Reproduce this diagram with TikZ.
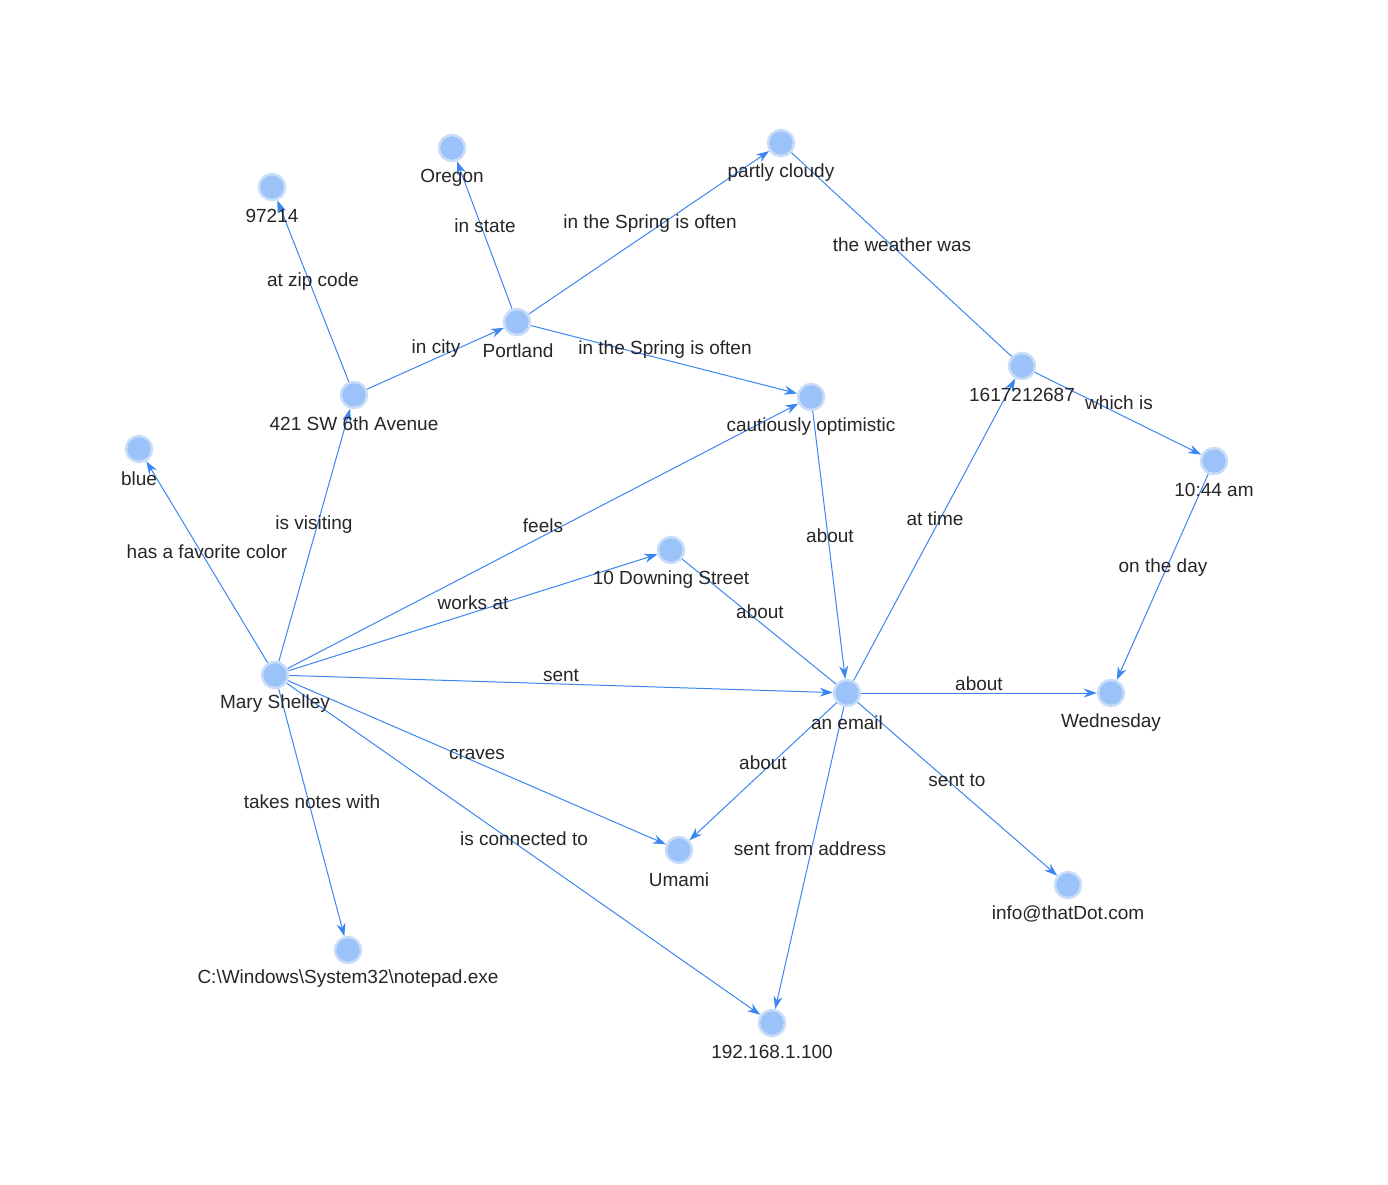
\documentclass[tikz,border=0pt]{standalone}
\usepackage{fontspec}
\setmainfont{Liberation Sans}
\usetikzlibrary{arrows.meta}
\definecolor{nfill}{HTML}{9CC2FA}
\definecolor{nring}{HTML}{C9DCF8}
\definecolor{eline}{HTML}{3B86F0}
\begin{document}
\begin{tikzpicture}[x=1pt,y=-1pt,
  v/.style={circle,fill=nfill,draw=nring,line width=2.5pt,minimum size=26pt,inner sep=0pt},
  lab/.style={font=\fontsize{19}{21}\selectfont,text=black!85,inner sep=1pt},
  e/.style={draw=eline,line width=1pt,-{Stealth[length=13pt,width=9pt]}},
  ep/.style={draw=eline,line width=1pt}]
\useasboundingbox[fill=white] (0,0) rectangle (1388,1184);
\node[v] (mary) at (275,675) {};
\node[v] (blue) at (139,449) {};
\node[v] (zip) at (272,187) {};
\node[v] (addr) at (354,395) {};
\node[v] (oregon) at (452,148) {};
\node[v] (portland) at (517,322) {};
\node[v] (cloudy) at (781,143) {};
\node[v] (opt) at (811,397) {};
\node[v] (ts) at (1022,366) {};
\node[v] (time) at (1214,461) {};
\node[v] (downing) at (671,550) {};
\node[v] (email) at (847,693) {};
\node[v] (wed) at (1111,693) {};
\node[v] (umami) at (679,850) {};
\node[v] (info) at (1068,885) {};
\node[v] (note) at (348,950) {};
\node[v] (ip) at (772,1023) {};
% edges
\draw[e] (mary) -- (blue);
\draw[e] (mary) -- (addr);
\draw[e] (addr) -- (zip);
\draw[e] (addr) -- (portland);
\draw[e] (portland) -- (oregon);
\draw[e] (portland) -- (cloudy);
\draw[e] (portland) -- (opt);
\draw[e] (mary) -- (opt);
\draw[e] (mary) -- (downing);
\draw[e] (mary) -- (email);
\draw[e] (mary) -- (umami);
\draw[e] (mary) -- (note);
\draw[e] (mary) -- (ip);
\draw[ep] (ts) -- (cloudy);
\draw[e] (ts) -- (time);
\draw[e] (time) -- (wed);
\draw[e] (opt) -- (email);
\draw[e] (email) -- (ts);
\draw[ep] (email) -- (downing);
\draw[e] (email) -- (wed);
\draw[e] (email) -- (umami);
\draw[e] (email) -- (info);
\draw[e] (email) -- (ip);
% node labels
\node[lab] (lmary) at (275,704) {Mary Shelley};
\node[lab] (lblue) at (139,479) {blue};
\node[lab] (lzip) at (272,216) {97214};
\node[lab] (laddr) at (354,424) {421 SW 6th Avenue};
\node[lab] (loregon) at (452,178) {Oregon};
\node[lab] (lportland) at (518,351) {Portland};
\node[lab] (lcloudy) at (781,173) {partly cloudy};
\node[lab] (lopt) at (811,427) {cautiously optimistic};
\node[lab] (lts) at (1022,395) {1617212687};
\node[lab] (ltime) at (1214,490) {10:44 am};
\node[lab] (ldowning) at (671,580) {10 Downing Street};
\node[lab] (lemail) at (847,723) {an email};
\node[lab] (lwed) at (1111,723) {Wednesday};
\node[lab] (lumami) at (679,880) {Umami};
\node[lab] (linfo) at (1068,914) {info@thatDot.com};
\node[lab] (lnote) at (348,979) {C:\textbackslash Windows\textbackslash System32\textbackslash notepad.exe};
\node[lab] (lip) at (772,1052) {192.168.1.100};
% edge labels
\node[lab] (e1) at (207,552) {has a favorite color};
\node[lab] (e2) at (314,525) {is visiting};
\node[lab] (e3) at (313,282) {at zip code};
\node[lab] (e4) at (436,349) {in city};
\node[lab] (e5) at (485,226) {in state};
\node[lab] (e6) at (650,224) {in the Spring is often};
\node[lab] (e7) at (665,350) {in the Spring is often};
\node[lab] (e8) at (543,526) {feels};
\node[lab] (e9) at (473,603) {works at};
\node[lab] (e10) at (561,675) {sent};
\node[lab] (e11) at (477,754) {craves};
\node[lab] (e12) at (312,802) {takes notes with};
\node[lab] (e13) at (524,839) {is connected to};
\node[lab] (e14) at (902,245) {the weather was};
\node[lab] (e15) at (1119,403) {which is};
\node[lab] (e16) at (1163,568) {on the day};
\node[lab] (e17) at (830,536) {about};
\node[lab] (e18) at (935,519) {at time};
\node[lab] (e19) at (760,612) {about};
\node[lab] (e20) at (979,684) {about};
\node[lab] (e21) at (763,763) {about};
\node[lab] (e22) at (957,780) {sent to};
\node[lab] (e23) at (810,849) {sent from address};
\end{tikzpicture}
\end{document}
